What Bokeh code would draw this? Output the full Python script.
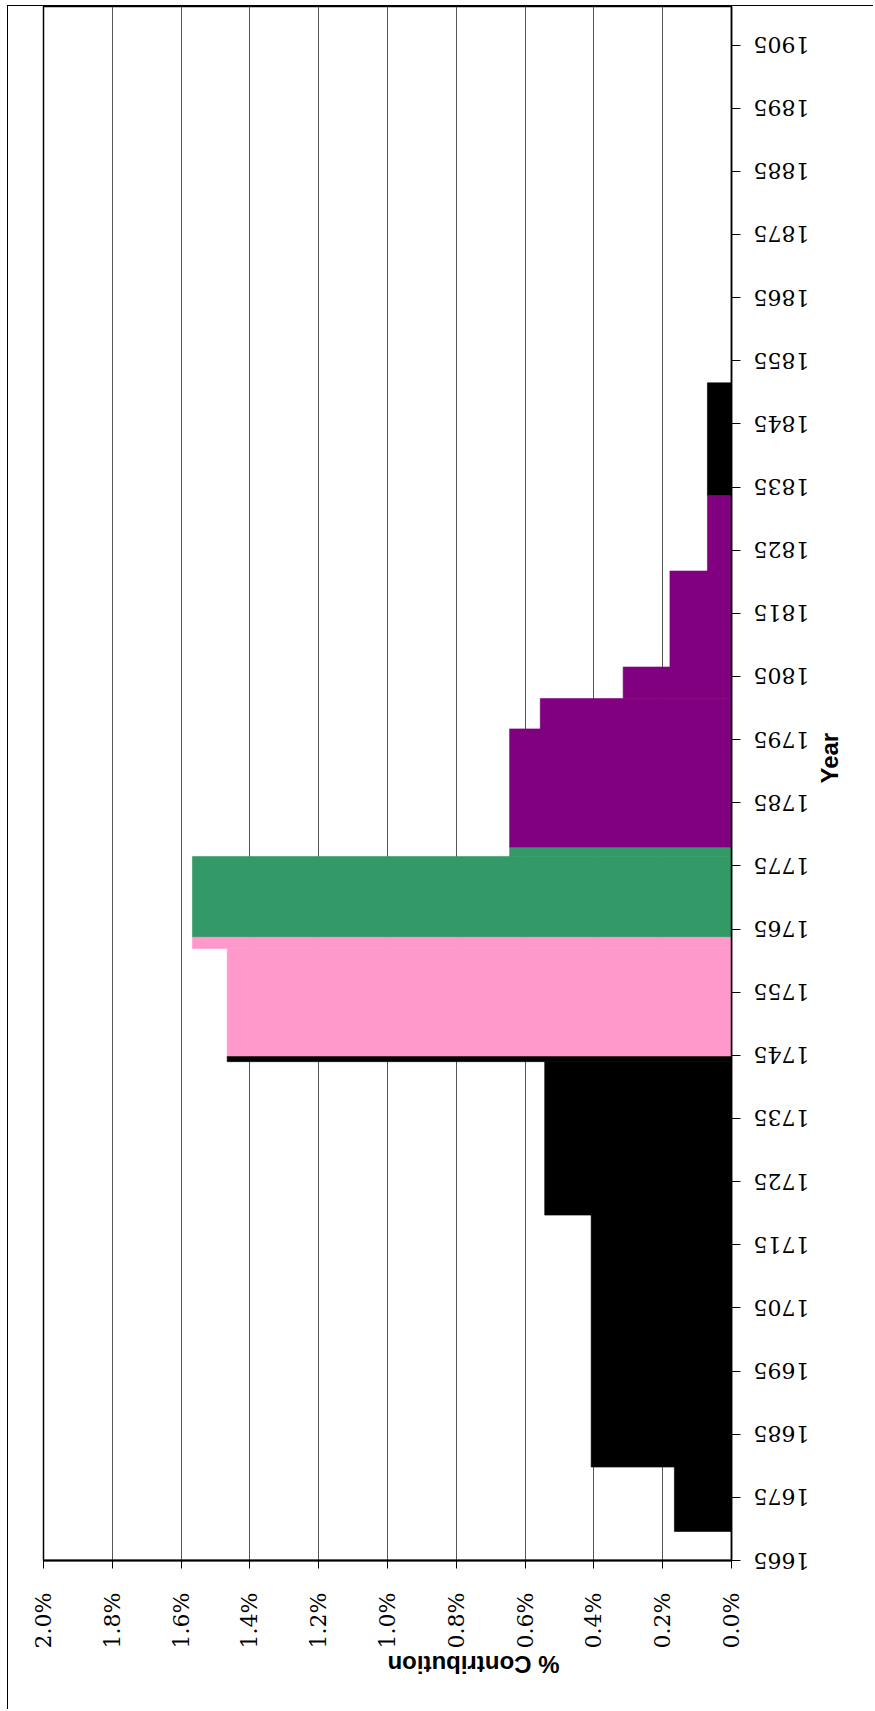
import math
from bokeh.plotting import figure
from bokeh.models import Range1d, FixedTicker, NumeralTickFormatter
from bokeh.embed import file_html
from bokeh.resources import INLINE

# ---- data (values in %, years) ----
black_start = [1669.6, 1679.8, 1719.7, 1744.0, 1833.6]
black_end = [1679.8, 1719.7, 1744.0, 1744.9, 1851.5]
black_value = [0.166, 0.408, 0.543, 1.466, 0.070]

pink_start = [1744.9, 1761.9]
pink_end = [1761.9, 1763.8]
pink_value = [1.466, 1.567]

green_start = [1763.8, 1776.5]
green_end = [1776.5, 1778.0]
green_value = [1.567, 0.645]

purple_start = [1778.0, 1796.7, 1801.5, 1806.5, 1821.7]
purple_end = [1796.7, 1801.5, 1806.5, 1821.7, 1833.6]
purple_value = [0.645, 0.556, 0.315, 0.179, 0.070]

year_ticks = [1665, 1675, 1685, 1695, 1705, 1715, 1725, 1735, 1745, 1755, 1765,
              1775, 1785, 1795, 1805, 1815, 1825, 1835, 1845, 1855, 1865, 1875,
              1885, 1895, 1905]
value_ticks = [0.0, 0.2, 0.4, 0.6, 0.8, 1.0, 1.2, 1.4, 1.6, 1.8, 2.0]

SERIF = "DejaVu Serif"
SANS = "Liberation Sans"

W, H = 866, 1704
p = figure(width=W, height=H,
           x_range=Range1d(0.02, 0.0), y_range=Range1d(1665, 1911.1),
           y_axis_location="right",
           output_backend="svg", toolbar_location=None,
           min_border_left=35, min_border_right=W - 35 - 688,
           min_border_top=0, min_border_bottom=H - 1554)
p.styles = {"border-left": "1px solid black", "border-top": "1px solid black",
            "margin-left": "7px", "margin-top": "5px"}

p.background_fill_color = "white"
p.border_fill_color = "white"
p.outline_line_color = "black"
p.outline_line_width = 1.5

series = [
    (black_start, black_end, black_value, "#000000"),
    (pink_start, pink_end, pink_value, "#FF99CC"),
    (green_start, green_end, green_value, "#339966"),
    (purple_start, purple_end, purple_value, "#800080"),
]
for s, e, v, c in series:
    p.quad(left=[0.0] * len(v), right=[x / 100.0 for x in v], bottom=s, top=e,
           fill_color=c, line_color=c, line_width=0.6)

# grid
p.ygrid.grid_line_color = None
p.xgrid.grid_line_color = "#555555"
p.xgrid.grid_line_width = 1

# value axis (bottom)
xa = p.xaxis[0]
xa.ticker = FixedTicker(ticks=[t / 100.0 for t in value_ticks])
xa.formatter = NumeralTickFormatter(format="0.0%")
xa.major_label_orientation = math.pi / 2
xa.major_label_text_font = SERIF
xa.major_label_text_font_size = "22px"
xa.major_label_text_color = "black"
xa.major_label_standoff = 24
xa.major_tick_out = 8
xa.major_tick_in = 0
xa.minor_tick_out = 0
xa.minor_tick_in = 0
xa.axis_line_color = "black"
xa.axis_line_width = 2
xa.axis_label = "% Contribution"
xa.axis_label_orientation = math.pi
xa.axis_label_text_font = SANS
xa.axis_label_text_font_style = "bold"
xa.axis_label_text_font_size = "24px"
xa.axis_label_text_color = "black"
xa.axis_label_standoff = 13

# year axis (right)
ya = p.yaxis[0]
ya.ticker = FixedTicker(ticks=year_ticks)
ya.major_label_orientation = math.pi
ya.major_label_text_font = SERIF
ya.major_label_text_font_size = "22px"
ya.major_label_text_color = "black"
ya.major_label_standoff = 69
ya.major_tick_out = 9
ya.major_tick_in = 0
ya.minor_tick_out = 0
ya.minor_tick_in = 0
ya.axis_line_color = "black"
ya.axis_line_width = 1.5
ya.axis_label = "Year"
ya.axis_label_orientation = math.pi / 2
ya.axis_label_text_font = SANS
ya.axis_label_text_font_style = "bold"
ya.axis_label_text_font_size = "24px"
ya.axis_label_text_color = "black"
ya.axis_label_standoff = -39

open("out.html", "w").write(file_html(p, INLINE))
